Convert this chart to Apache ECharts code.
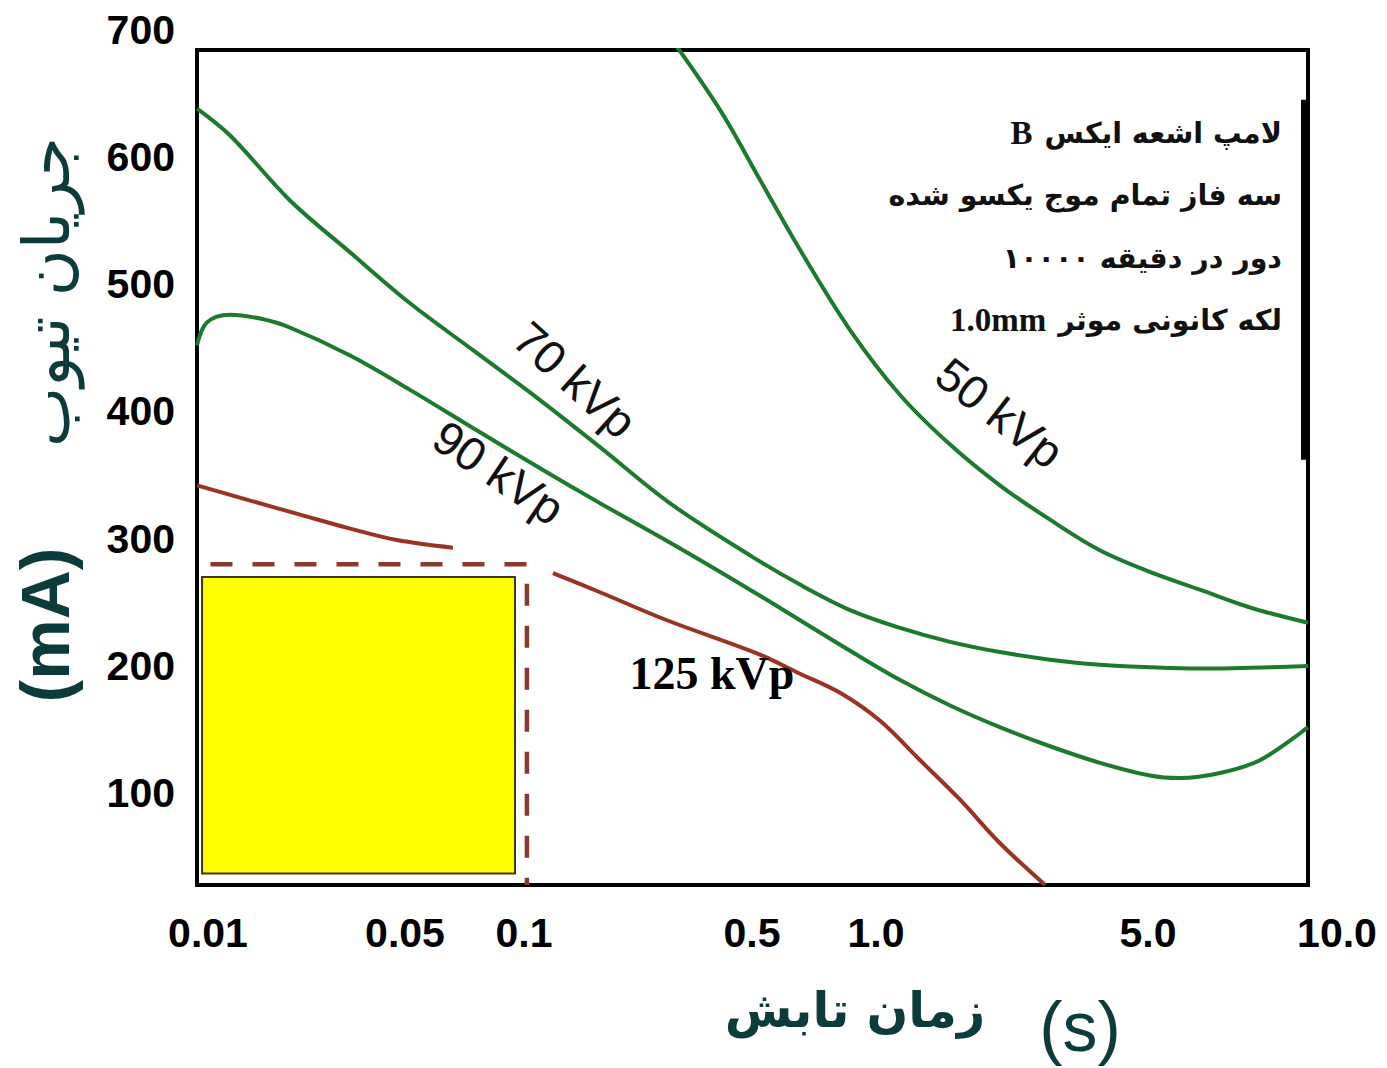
<!DOCTYPE html>
<html><head><meta charset="utf-8">
<script src="https://cdn.jsdelivr.net/npm/echarts@6.0.0/dist/echarts.min.js"></script>
<style>html,body{margin:0;padding:0;background:#fff}#c{width:1387px;height:1068px}</style>
</head><body><div id="c"></div>
<script>
// ---- tick labels ----
const xTickValues = [0.01, 0.05, 0.1, 0.5, 1, 5, 10];
const xTickLabels = ['0.01', '0.05', '0.1', '0.5', '1.0', '5.0', '10.0'];
const yTickValues = [100, 200, 300, 400, 500, 600, 700];

// ---- series: exposure time (s) and tube current (mA) ----
const t50  = [0.27, 0.399, 0.523, 0.654, 0.865, 1.153, 1.55, 2.08, 2.8, 3.76, 5.04, 6.26, 7.78, 10];
const mA50 = [700, 637, 582, 527, 464, 413, 374, 342, 315, 291, 274, 260, 246, 234];

const t70  = [0.01, 0.0129, 0.0205, 0.0327, 0.0515, 0.0752, 0.112, 0.171, 0.28, 0.493, 0.654, 0.865, 1.153, 1.55, 2.08, 2.8, 3.76, 6.26, 10];
const mA70 = [638, 617, 566, 525, 485, 447, 409, 372, 328, 287, 264, 244, 230, 219, 211, 205, 201, 198, 200];

const t90  = [0.01, 0.0108, 0.0129, 0.0163, 0.0205, 0.0327, 0.0515, 0.0752, 0.1144, 0.171, 0.28, 0.493, 0.654, 0.865, 1.153, 1.55, 2.08, 2.8, 3.76, 5.04, 5.74, 6.83, 8.12, 10];
const mA90 = [452, 470, 476, 473, 466, 444, 417, 386, 354, 328, 297, 260, 236, 212, 189, 169, 152, 137, 124, 114, 112, 116, 126, 152];

// null = gap where the curve passes behind the dashed limit box
const t125  = [0.01, 0.0151, 0.0222, 0.0327, 0.047, 0.0661, null, 0.1227, 0.171, 0.2744, 0.514, 0.654, 0.818, 1.024, 1.298, 1.644, 2.08, 2.72];
const mA125 = [342, 330, 319, 308, 299, 293, null, 273, 258, 236, 210, 194, 179, 157, 126, 95, 61, 28];

// highlighted region (yellow) and dashed limit box
const boxTime = [0.0104, 0.0949];
const boxMA = [37, 270];
const limitTime = [0.0111, 0.1021];
const limitMA = 280;

const curveNames = ['50 kVp', '70 kVp', '90 kVp', '125 kVp'];
const infoLines = ['لامپ اشعه ایکس', 'B', 'سه فاز تمام موج یکسو شده', '۱۰۰۰۰ دور در دقیقه', 'لکه کانونی موثر', '1.0mm'];
const yTitle = ['(mA)', 'جریان تیوب'];
const xTitle = ['زمان تابش', '(s)'];

// ---- printed (non-uniform) time scale of the original: fraction of axis length at each tick ----
const xTickFrac = [0, 0.1872, 0.2943, 0.4995, 0.6112, 0.8560, 1];
const lk = xTickValues.map(Math.log10);
function toAxis(t) {
  const lt = Math.log10(t);
  let i = 0;
  while (i < lk.length - 2 && lt > lk[i + 1]) i++;
  const f = (lt - lk[i]) / (lk[i + 1] - lk[i]);
  return xTickFrac[i] + f * (xTickFrac[i + 1] - xTickFrac[i]);
}
function pts(ts, vs) {
  const out = [];
  ts.forEach((t, i) => {
    if (t === null) out.push([(toAxis(ts[i - 1]) + toAxis(ts[i + 1])) / 2, '-']);
    else out.push([toAxis(t), vs[i]]);
  });
  return out;
}

const Y_MIN = 28, Y_MAX = 684;
const GREEN = '#1b7a2c', RED = '#9a3322', TITLE = '#0b3b3b';
const tickFont = { fontFamily: 'Liberation Sans, Arial, sans-serif', fontWeight: 'bold', fontSize: 41, color: '#000' };
const curveFont = { fontFamily: 'Liberation Sans, Arial, sans-serif', fontSize: 47, color: '#111' };

function curveLabel(name, t, v, rot, extra) {
  return {
    symbol: 'rect', symbolSize: 1, itemStyle: { color: 'rgba(0,0,0,0)' }, silent: true,
    data: [{ coord: [toAxis(t), v], value: name,
      label: Object.assign({ show: true, position: 'inside', formatter: name, rotate: rot }, curveFont, extra || {}) }]
  };
}
const persian = { fontFamily: 'DejaVu Sans', fontWeight: 'bold', fontSize: 28.5, fill: '#111' };
const latin = { fontFamily: 'Liberation Serif', fontWeight: 'bold', fontSize: 33, fill: '#111' };

const chart = echarts.init(document.getElementById('c'), null, { renderer: 'svg' });
const option = {
  animation: false,
  backgroundColor: '#fff',
  grid: [
    { left: 197, right: 79, top: 50, bottom: 183, show: true, borderColor: '#000', borderWidth: 4, backgroundColor: 'transparent' },
    { left: 197, right: 79, top: 29.6, bottom: 183, show: false }
  ],
  xAxis: [
    { gridIndex: 0, type: 'value', min: 0, max: 1,
      axisLine: { show: false }, axisTick: { show: false }, splitLine: { show: false },
      axisLabel: Object.assign({
        customValues: xTickValues.map(toAxis), margin: 27, showMinLabel: true, showMaxLabel: true,
        formatter: function (v) {
          let best = 0, bd = 1e9;
          xTickValues.forEach((t, i) => { const d = Math.abs(toAxis(t) - v); if (d < bd) { bd = d; best = i; } });
          if (best === 0) return '{first|' + xTickLabels[best] + '}';
          if (best === xTickValues.length - 1) return '{last|' + xTickLabels[best] + '}';
          return xTickLabels[best];
        },
        rich: {
          first: Object.assign({ padding: [0, 0, 0, 22] }, tickFont),
          last: Object.assign({ padding: [0, 0, 0, 58] }, tickFont)
        }
      }, tickFont) },
    { gridIndex: 1, type: 'value', min: 0, max: 1, show: false }
  ],
  yAxis: [
    { gridIndex: 0, type: 'value', min: Y_MIN, max: Y_MAX,
      axisLine: { show: false }, axisTick: { show: false }, splitLine: { show: false }, axisLabel: { show: false } },
    { gridIndex: 1, type: 'value', min: 28, max: 700,
      axisLine: { show: false }, axisTick: { show: false }, splitLine: { show: false },
      axisLabel: Object.assign({ customValues: yTickValues, margin: 22, showMaxLabel: true }, tickFont) }
  ],
  series: [
    { // yellow region
      type: 'line', xAxisIndex: 0, yAxisIndex: 0, data: [], silent: true,
      markArea: { silent: true,
        itemStyle: { color: '#ffff00', borderColor: '#3a3a10', borderWidth: 2 },
        data: [[{ coord: [toAxis(boxTime[0]), boxMA[0]] }, { coord: [toAxis(boxTime[1]), boxMA[1]] }]] }
    },
    { // dashed limit
      type: 'line', xAxisIndex: 0, yAxisIndex: 0, symbol: 'none', silent: true,
      data: [[toAxis(limitTime[0]), limitMA], [toAxis(limitTime[1]), limitMA], [toAxis(limitTime[1]), Y_MIN]],
      lineStyle: { color: '#8a3a2c', width: 4.5, type: [22, 20] },
      markLine: { silent: true, symbol: 'none', label: { show: false },
        lineStyle: { color: '#000', width: 8, type: 'solid' },
        data: [[{ coord: [0.9975, 362] }, { coord: [0.9975, 645] }]] }
    },
    { name: curveNames[3], type: 'line', smooth: 0.35, symbol: 'none', data: pts(t125, mA125),
      lineStyle: { color: RED, width: 4 },
      markPoint: curveLabel(curveNames[3], 0.377, 194, 0,
        { fontFamily: 'Liberation Serif, Times New Roman, serif', fontWeight: 'bold', fontSize: 46, color: '#000' }) },
    { name: curveNames[2], type: 'line', smooth: 0.35, symbol: 'none', data: pts(t90, mA90),
      lineStyle: { color: GREEN, width: 4 },
      markPoint: curveLabel(curveNames[2], 0.0864, 352, -34) },
    { name: curveNames[1], type: 'line', smooth: 0.35, symbol: 'none', data: pts(t70, mA70),
      lineStyle: { color: GREEN, width: 4 },
      markPoint: curveLabel(curveNames[1], 0.1434, 425, -42) },
    { name: curveNames[0], type: 'line', smooth: 0.35, symbol: 'none', data: pts(t50, mA50),
      lineStyle: { color: GREEN, width: 4 },
      markPoint: curveLabel(curveNames[0], 2.08, 399, -38) }
  ],
  graphic: [
    { type: 'text', x: 1282, y: 133, silent: true,
      style: { text: '{l|' + infoLines[1] + '}{p|' + infoLines[0] + '}', align: 'right', verticalAlign: 'middle',
        rich: { p: persian, l: Object.assign({ padding: [0, 12, 0, 0] }, latin) } } },
    { type: 'text', x: 1282, y: 195, silent: true,
      style: { text: '{p|' + infoLines[2] + '}', align: 'right', verticalAlign: 'middle', rich: { p: persian } } },
    { type: 'text', x: 1282, y: 258, silent: true,
      style: { text: '{p|' + infoLines[3] + '}', align: 'right', verticalAlign: 'middle', rich: { p: persian } } },
    { type: 'text', x: 1282, y: 320, silent: true,
      style: { text: '{l|' + infoLines[5] + '}{p|' + infoLines[4] + '}', align: 'right', verticalAlign: 'middle',
        rich: { p: persian, l: Object.assign({ padding: [0, 12, 0, 0] }, latin) } } },
    { type: 'text', x: 45, y: 625, rotation: Math.PI / 2, silent: true,
      style: { text: yTitle[0], align: 'center', verticalAlign: 'middle',
        font: 'bold 68px "Liberation Sans"', fill: TITLE } },
    { type: 'text', x: 47, y: 292, rotation: Math.PI / 2, silent: true,
      style: { text: yTitle[1], align: 'center', verticalAlign: 'middle',
        font: '64px "DejaVu Sans"', fill: TITLE } },
    { type: 'text', x: 855, y: 1010, silent: true,
      style: { text: xTitle[0], align: 'center', verticalAlign: 'middle',
        font: 'bold 49px "DejaVu Sans"', fill: TITLE } },
    { type: 'text', x: 1080, y: 1027, silent: true,
      style: { text: xTitle[1], align: 'center', verticalAlign: 'middle',
        font: '70px "Liberation Sans"', fill: TITLE } }
  ]
};
chart.setOption(option);
</script>
</body></html>
